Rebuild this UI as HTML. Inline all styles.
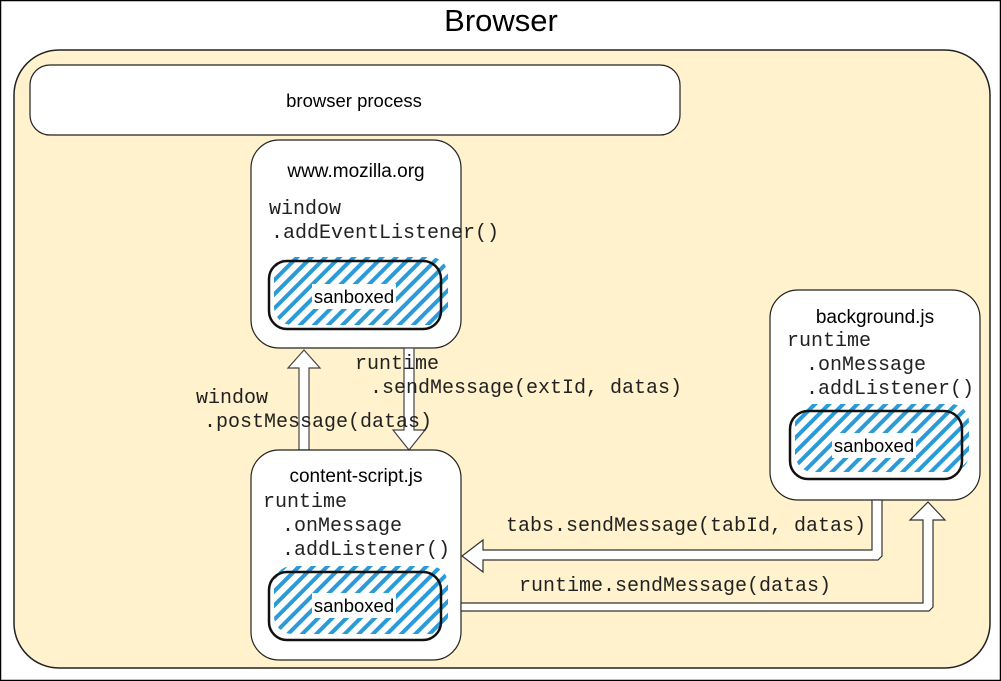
<!DOCTYPE html>
<html><head><meta charset="utf-8"><style>
html,body{margin:0;padding:0;background:#fff}
svg{display:block}
.m{font-family:"Liberation Mono",monospace;font-size:20px;fill:#222}
.s{font-family:"Liberation Sans",sans-serif;fill:#000}
</style></head><body>
<svg width="1001" height="681" viewBox="0 0 1001 681" xmlns="http://www.w3.org/2000/svg">
<defs>
<pattern id="h" patternUnits="userSpaceOnUse" width="10" height="10" patternTransform="rotate(45)">
<rect x="0" y="0" width="4" height="10" fill="#2a9ad9"/>
</pattern>
</defs>
<rect x="0.5" y="0.5" width="1000" height="680" fill="#fff" stroke="#000" stroke-width="1.5"/>
<text x="501" y="31" class="s" font-size="31" text-anchor="middle">Browser</text>
<rect x="14" y="50" width="976" height="618" rx="45" fill="#fff2cc" stroke="#222" stroke-width="1.5"/>
<rect x="30" y="65" width="650" height="70" rx="20" fill="#fff" stroke="#222" stroke-width="1.2"/>
<text x="354" y="107" class="s" font-size="18.5" text-anchor="middle">browser process</text>

<!-- mozilla -->
<rect x="251" y="140" width="210" height="208" rx="28" fill="#fff" stroke="#222" stroke-width="1.2"/>
<text x="356" y="177" class="s" font-size="19" text-anchor="middle">www.mozilla.org</text>
<text x="269" y="214" class="m">window</text>
<text x="271" y="238" class="m">.addEventListener()</text>
<rect x="274" y="257" width="174" height="68" rx="18" fill="url(#h)"/>
<rect x="269" y="261" width="172" height="68" rx="18" fill="none" stroke="#111" stroke-width="2.5"/>
<rect x="312" y="284" width="84" height="25" fill="#fff"/>
<text x="354" y="303" class="s" font-size="18.5" text-anchor="middle">sanboxed</text>

<!-- background -->
<rect x="770" y="290" width="210" height="210" rx="28" fill="#fff" stroke="#222" stroke-width="1.2"/>
<text x="875" y="323" class="s" font-size="19" text-anchor="middle">background.js</text>
<text x="787" y="346" class="m">runtime</text>
<text x="806" y="370" class="m">.onMessage</text>
<text x="806" y="394" class="m">.addListener()</text>
<rect x="795" y="404" width="174" height="68" rx="18" fill="url(#h)"/>
<rect x="790" y="411" width="172" height="68" rx="18" fill="none" stroke="#111" stroke-width="2.5"/>
<rect x="832" y="433" width="84" height="25" fill="#fff"/>
<text x="874" y="452" class="s" font-size="18.5" text-anchor="middle">sanboxed</text>

<!-- arrows between mozilla and content -->
<polygon points="299,450 299,368 288,368 304,350 320,368 309,368 309,450" fill="#fff" stroke="#444" stroke-width="1.2"/>
<polygon points="404,348 404,430 393,430 409,450 425,430 414,430 414,348" fill="#fff" stroke="#444" stroke-width="1.2"/>
<text x="355" y="369" class="m">runtime</text>
<text x="370" y="393" class="m">.sendMessage(extId, datas)</text>
<text x="196" y="403" class="m">window</text>
<text x="204" y="427" class="m">.postMessage(datas)</text>

<!-- content-script -->
<rect x="251" y="450" width="210" height="210" rx="28" fill="#fff" stroke="#222" stroke-width="1.2"/>
<text x="356" y="482" class="s" font-size="19" text-anchor="middle">content-script.js</text>
<text x="263" y="507" class="m">runtime</text>
<text x="282" y="531" class="m">.onMessage</text>
<text x="282" y="555" class="m">.addListener()</text>
<rect x="274" y="566" width="174" height="68" rx="18" fill="url(#h)"/>
<rect x="269" y="572" width="172" height="68" rx="18" fill="none" stroke="#111" stroke-width="2.5"/>
<rect x="312" y="593" width="84" height="25" fill="#fff"/>
<text x="354" y="612" class="s" font-size="18.5" text-anchor="middle">sanboxed</text>

<!-- tabs arrow -->
<polygon points="872,500 872,550 483,550 483,540 462,556 483,572 483,560 878,560 882,556 882,500" fill="#fff" stroke="#333" stroke-width="1.2"/>
<text x="506" y="531" class="m">tabs.sendMessage(tabId, datas)</text>
<!-- runtime arrow -->
<polygon points="461,603 923,603 923,520 910,520 928,502 945,520 933,520 933,607 929,611 461,611" fill="#fff" stroke="#333" stroke-width="1.2"/>
<text x="519" y="591" class="m">runtime.sendMessage(datas)</text>
</svg>
</body></html>
